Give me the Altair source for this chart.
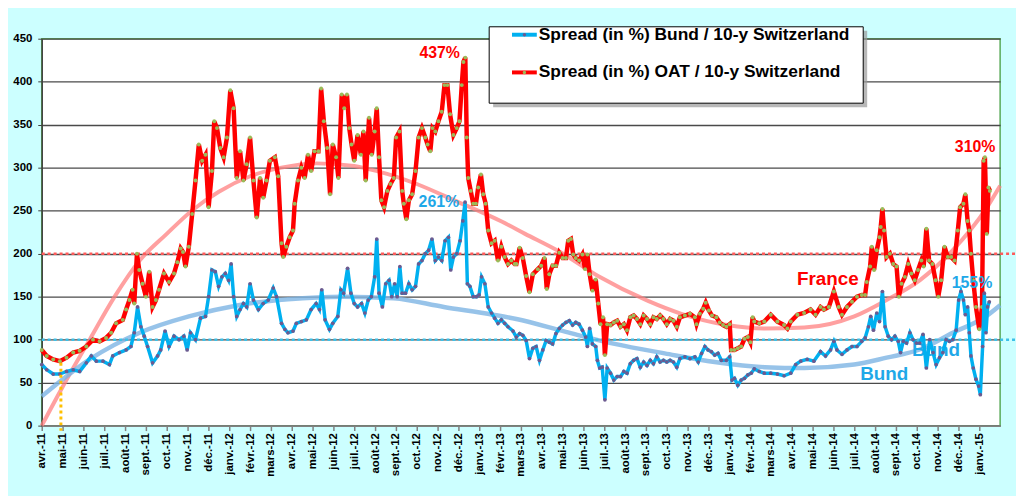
import json
import altair as alt
import pandas as pd

FONT = "Liberation Sans"

x_labels = [
    "avr.-11", "mai-11", "juin-11", "juil.-11", "août-11", "sept.-11", "oct.-11", "nov.-11", "déc.-11",
    "janv.-12", "févr.-12", "mars-12", "avr.-12", "mai-12", "juin-12", "juil.-12", "août-12", "sept.-12",
    "oct.-12", "nov.-12", "déc.-12",
    "janv.-13", "févr.-13", "mars-13", "avr.-13", "mai-13", "juin-13", "juil.-13", "août-13", "sept.-13",
    "oct.-13", "nov.-13", "déc.-13",
    "janv.-14", "févr.-14", "mars-14", "avr.-14", "mai-14", "juin-14", "juil.-14", "août-14", "sept.-14",
    "oct.-14", "nov.-14", "déc.-14",
    "janv.-15",
]

# France (OAT) spread, x = months since April 2011
fr_m = [0.0, 0.24, 0.55, 0.87, 1.19, 1.51, 1.82, 2.14, 2.46, 2.78, 3.09, 3.33, 3.57, 3.89, 4.05, 4.21,
        4.36, 4.44, 4.57, 4.68, 4.84, 5.0, 5.16, 5.32, 5.48, 5.63, 5.87, 6.11, 6.35, 6.51, 6.67, 6.78,
        6.90, 7.06, 7.22, 7.38, 7.54, 7.70, 7.86, 8.01, 8.17, 8.28, 8.41, 8.57, 8.73, 8.89, 9.05, 9.21,
        9.36, 9.52, 9.68, 9.84, 10.0, 10.16, 10.32, 10.48, 10.63, 10.79, 10.95, 11.19,
        11.35, 11.51, 11.59, 11.74, 11.90, 12.06, 12.14, 12.30, 12.46, 12.62, 12.78, 12.93, 13.09, 13.28,
        13.41, 13.54, 13.70, 13.84, 13.97, 14.13, 14.24, 14.40, 14.52, 14.65, 14.76, 14.87, 15.0, 15.16,
        15.32, 15.44, 15.55, 15.71, 15.84, 15.98, 16.08, 16.19, 16.30, 16.43, 16.59, 16.74, 16.90, 17.01,
        17.17, 17.30, 17.38, 17.50, 17.62, 17.78, 17.94, 18.09, 18.25, 18.41, 18.52, 18.65, 18.76, 18.89,
        19.04, 19.20, 19.33, 19.47, 19.60, 19.76, 19.92, 20.05, 20.16, 20.24, 20.33, 20.40, 20.47, 20.59,
        20.71, 20.84, 20.95, 21.08, 21.19, 21.31, 21.43, 21.59, 21.74, 21.90, 22.06, 22.22, 22.38, 22.54,
        22.70,
        22.78, 22.94, 23.09, 23.25, 23.41, 23.57, 23.81, 23.97, 24.13, 24.24, 24.36, 24.52, 24.68, 24.84,
        25.0, 25.16, 25.27, 25.40, 25.51, 25.63, 25.79, 25.95, 26.08, 26.19, 26.30, 26.43, 26.59, 26.71,
        26.82, 26.94, 27.03, 27.14, 27.30, 27.46, 27.62, 27.78, 27.94, 28.09, 28.25, 28.41, 28.57, 28.73,
        28.89, 29.05, 29.21, 29.36, 29.52, 29.68, 29.84, 30.0, 30.16, 30.32, 30.48, 30.63, 30.87, 31.11,
        31.35, 31.43, 31.59, 31.75, 31.87, 32.02, 32.17, 32.38, 32.54, 32.70, 32.86, 33.02, 33.09, 33.25,
        33.41, 33.57, 33.73, 33.89, 34.01, 34.12,
        34.20, 34.44, 34.68, 34.99, 35.31, 35.63, 35.79, 35.95, 36.27, 36.59, 36.90, 37.14, 37.38, 37.54,
        37.78, 38.02, 38.25, 38.41, 38.65, 38.89, 39.13, 39.36, 39.52, 39.60, 39.76, 39.84, 39.95, 40.08,
        40.21, 40.27, 40.35, 40.43, 40.55, 40.71, 40.87, 41.03, 41.14, 41.27, 41.43, 41.59, 41.74, 41.90,
        42.06, 42.22, 42.33, 42.46, 42.59, 42.75, 42.90, 43.03, 43.17, 43.33, 43.49, 43.65, 43.81, 43.97,
        44.08, 44.24, 44.33, 44.44, 44.52, 44.60, 44.71, 44.84, 45.0, 45.13, 45.21, 45.27, 45.36, 45.44,
        45.51]
fr_v = [88, 81, 77, 75, 79, 85, 87, 92, 100, 98, 102, 108, 119, 123, 135, 146,
        158, 142, 200, 181, 165, 150, 179, 138, 146, 158, 177, 167, 177, 190, 206, 202,
        185, 208, 246, 285, 327, 308, 315, 254, 296, 354, 346, 323, 312, 335, 390, 369,
        288, 319, 285, 304, 335, 285, 242, 288, 265, 285, 308, 312,
        290, 212, 196, 208, 219, 227, 258, 285, 300, 288, 315, 296, 319, 319,
        392, 354, 323, 269, 327, 312, 288, 385, 369, 385, 346, 327, 308, 338,
        315, 342, 285, 358, 315, 342, 369, 312, 262, 254, 273, 281, 288, 335,
        342, 273, 258, 240, 262, 269, 296, 335, 346, 335, 327, 319, 346, 342,
        354, 365, 396, 396, 362, 338, 346, 354, 396, 423, 428, 335, 288, 273,
        258, 258, 277, 292, 269, 258, 227, 212, 215, 192, 208, 196, 188, 192,
        188,
        188, 207, 195, 174, 155, 176, 182, 186, 195, 159, 176, 186, 186, 201,
        195, 195, 215, 217, 199, 195, 192, 199, 182, 199, 176, 157, 170, 142,
        118, 126, 82, 118, 117, 120, 122, 115, 118, 111, 126, 128, 124, 118,
        128, 124, 118, 126, 124, 128, 124, 118, 124, 122, 115, 126, 128, 130,
        126, 118, 130, 136, 143, 134, 128, 126, 120, 117, 115, 118, 88, 88,
        90, 92, 101, 103, 97, 126,
        121, 119, 121, 129, 121, 117, 113, 121, 129, 131, 135, 129, 138, 135,
        138, 156, 138, 129, 138, 144, 150, 152, 152, 167, 185, 208, 181, 204,
        219, 231, 252, 227, 196, 200, 188, 185, 150, 165, 173, 188, 177, 169,
        181, 192, 185, 229, 192, 188, 169, 150, 169, 208, 196, 196, 192, 227,
        254, 258, 269, 238, 227, 200, 169, 138, 112, 138, 308, 312, 223, 277,
        273]

# Germany (Bund) spread
de_m = [0.0, 0.24, 0.55, 0.87, 1.19, 1.51, 1.82, 2.14, 2.38, 2.62, 2.94, 3.25, 3.41, 3.73, 4.05, 4.28,
        4.44, 4.60, 4.76, 4.92, 5.08, 5.32, 5.56, 5.71, 5.92, 6.11, 6.35, 6.59, 6.82, 6.98, 7.14, 7.38,
        7.62, 7.86, 8.01, 8.17, 8.33, 8.49, 8.65, 8.81, 8.97, 9.09, 9.21, 9.36, 9.52, 9.68, 9.84, 10.0,
        10.16, 10.40, 10.63, 10.87, 11.11, 11.27,
        11.51, 11.67, 11.82, 12.06, 12.22, 12.46, 12.70, 12.93, 13.17, 13.33, 13.44, 13.60, 13.81, 13.97,
        14.21, 14.36, 14.49, 14.68, 14.84, 15.0, 15.16, 15.35, 15.51, 15.67, 15.82, 15.98, 16.08, 16.19,
        16.35, 16.51, 16.67, 16.80, 16.94, 17.06, 17.19, 17.30, 17.46, 17.62, 17.78, 17.94, 18.09, 18.25,
        18.41, 18.57, 18.73, 18.89, 19.04, 19.20, 19.36, 19.52, 19.63, 19.76, 19.92, 20.08, 20.21, 20.32,
        20.43, 20.55, 20.71, 20.87, 20.99, 21.11, 21.27, 21.43, 21.59, 21.74, 21.90, 22.06, 22.22, 22.38,
        22.62,
        22.78, 22.94, 23.09, 23.25, 23.41, 23.57, 23.73, 23.89, 24.05, 24.21, 24.36, 24.52, 24.68, 24.84,
        25.0, 25.16, 25.32, 25.48, 25.63, 25.79, 25.95, 26.11, 26.19, 26.30, 26.43, 26.59, 26.67, 26.78,
        26.90, 27.03, 27.14, 27.30, 27.46, 27.62, 27.78, 27.94, 28.09, 28.25, 28.41, 28.57, 28.73, 28.89,
        29.05, 29.21, 29.36, 29.52, 29.68, 29.84, 30.0, 30.16, 30.32, 30.48, 30.63, 30.87, 31.11, 31.35,
        31.51, 31.67, 31.83, 31.98, 32.14, 32.30, 32.46, 32.62, 32.86, 33.02, 33.13, 33.25, 33.41, 33.57,
        33.73, 33.89, 34.05,
        34.20, 34.44, 34.68, 34.99, 35.31, 35.63, 35.95, 36.19, 36.43, 36.74, 37.06, 37.38, 37.62, 37.86,
        38.02, 38.17, 38.41, 38.65, 38.89, 39.13, 39.36, 39.52, 39.68, 39.79, 39.92, 40.08, 40.21, 40.35,
        40.48, 40.63, 40.79, 40.95, 41.11, 41.22, 41.35, 41.51, 41.67, 41.82, 41.98, 42.14, 42.30, 42.46,
        42.62, 42.78, 42.93, 43.09, 43.25, 43.41, 43.57, 43.73, 43.89, 44.01, 44.12, 44.24, 44.33, 44.44,
        44.52, 44.60, 44.71, 44.84, 44.97, 45.05, 45.16, 45.24, 45.32, 45.40, 45.48]
de_v = [71, 65, 60, 60, 63, 65, 63, 73, 81, 75, 75, 71, 81, 85, 88, 92,
        108, 138, 115, 104, 92, 73, 81, 88, 110, 92, 104, 100, 104, 88, 108, 100,
        125, 127, 150, 181, 179, 162, 173, 177, 169, 188, 150, 127, 135, 142, 138, 165,
        146, 135, 142, 146, 160, 150,
        119, 112, 108, 110, 119, 121, 123, 135, 142, 135, 158, 123, 112, 119,
        127, 158, 154, 183, 154, 142, 138, 142, 131, 146, 150, 173, 217, 154,
        138, 165, 169, 150, 165, 150, 185, 154, 154, 165, 158, 162, 188, 192,
        200, 204, 217, 192, 196, 192, 215, 219, 181, 196, 200, 215, 238, 260,
        165, 162, 150, 150, 152, 173, 165, 138, 131, 125, 119, 123, 119, 115,
        110,
        103, 107, 105, 99, 78, 90, 92, 76, 88, 99, 97, 95, 107, 113,
        117, 120, 122, 117, 120, 118, 111, 103, 92, 113, 95, 92, 76, 67,
        68, 30, 67, 61, 53, 57, 57, 63, 61, 72, 76, 78, 68, 74,
        70, 76, 72, 80, 74, 76, 74, 76, 74, 68, 78, 80, 78, 80,
        74, 84, 92, 88, 86, 82, 84, 76, 76, 80, 53, 55, 47, 53,
        55, 59, 61,
        66, 63, 61, 61, 60, 58, 61, 71, 75, 77, 75, 86, 81, 88,
        98, 88, 83, 88, 92, 92, 98, 102, 115, 127, 111, 131, 121, 156,
        115, 104, 100, 104, 98, 85, 98, 96, 108, 100, 96, 96, 106, 67,
        100, 85, 71, 79, 85, 100, 98, 100, 111, 146, 156, 146, 129, 138,
        108, 81, 67, 54, 46, 36, 92, 154, 108, 138, 144]

# polynomial trend curves
fr_trend_m = [0, 1, 2.3, 3.5, 4.7, 6, 7.2, 8.5, 10, 11.5, 13.2, 15, 16.1, 18, 19.8, 22.1, 23.2, 24.8,
              26.7, 29.1, 30.7, 32.9, 34.7, 36.6, 39.0, 40.55, 42.14, 43.73, 45.32, 46]
fr_trend_v = [0, 45, 100, 150, 192, 223, 250, 272, 290, 300, 305, 302, 296, 281, 262, 237, 223, 203,
              174, 145, 130, 117, 113, 114, 127, 146, 169, 204, 252, 279]
de_trend_m = [0, 2.3, 4.7, 7.06, 9.44, 11.82, 14.5, 16.9, 19.3, 21.66, 22.78, 25.16, 27.5, 29.9, 32.3,
              34.7, 36.6, 39.0, 40.55, 42.14, 43.73, 45.32, 46]
de_trend_v = [34, 77, 108, 127, 140, 147, 150, 148, 138, 129, 124, 109, 95, 84, 74, 68, 67, 71, 79,
              88.5, 108, 127, 140]

ref_levels = [200, 100]
ref_colors = ["#ff5a5a", "#3cc0e8"]

marker_m = [0.92]
marker_from = [73]
marker_to = [-6]

ann_text = ["437%", "261%", "310%", "155%", "France", "Bund", "Bund"]
ann_m = [19.1, 19.06, 44.8, 44.65, 37.73, 40.44, 42.92]
ann_v = [433, 260, 324, 166, 170, 60, 88]

legend_labels = ["Spread (in %) Bund / 10-y Switzerland", "Spread (in %) OAT / 10-y Switzerland"]

W, H = 966, 390
RED = "#ff0000"
BLUE = "#00b0f0"
CYAN_TXT = "#1fa8e8"

xs = alt.Scale(domain=[0, 46], nice=False, zero=False)
ys = alt.Scale(domain=[0, 450], nice=False)

label_expr = json.dumps(x_labels, ensure_ascii=False) + "[datum.value]"

x_axis = alt.Axis(values=list(range(46)), labelExpr=label_expr, labelAngle=270, labelFont=FONT,
                  labelFontSize=11.5, labelFontWeight="bold", labelColor="#000000", tickColor="#808080",
                  tickSize=5, tickWidth=1.5, domainColor="#808080", domainWidth=2, grid=False, title=None,
                  labelPadding=2, labelOverlap=False, labelBound=False, labelFlush=False)
y_axis = alt.Axis(values=list(range(0, 451, 50)), grid=True, gridColor="#4a4a4a", gridWidth=1.3,
                  labelFont=FONT, labelFontSize=11.5, labelFontWeight="bold", labelColor="#000000",
                  tickSize=4, tickColor="#404040", domainColor="#404040", domainWidth=1.5, title=None,
                  labelPadding=6)

fr = pd.DataFrame({"m": fr_m, "v": fr_v})
de = pd.DataFrame({"m": de_m, "v": de_v})
frt = pd.DataFrame({"m": fr_trend_m, "v": fr_trend_v})
det = pd.DataFrame({"m": de_trend_m, "v": de_trend_v})
refs = pd.DataFrame({"v": ref_levels, "c": ref_colors})
mark_df = pd.DataFrame({"m": marker_m, "a": marker_from, "b": marker_to})

X = alt.X("m:Q", scale=xs, axis=x_axis)
Y = alt.Y("v:Q", scale=ys, axis=y_axis)

layers = []

layers.append(alt.Chart(frt).mark_line(color="#ff8080", strokeWidth=4, opacity=0.75,
                                       interpolate="monotone").encode(x=X, y=Y))
layers.append(alt.Chart(det).mark_line(color="#7db4e4", strokeWidth=4.5, opacity=0.8,
                                       interpolate="monotone").encode(x=X, y=Y))

# dotted reference levels
layers.append(alt.Chart(refs).mark_rule(strokeWidth=2.5, strokeDash=[3, 3]).encode(
    x=alt.value(0), x2=alt.value(W + 16), y=Y, color=alt.Color("c:N", scale=None)))


def ann(i, color, size):
    d = pd.DataFrame({"t": [ann_text[i]], "m": [ann_m[i]], "v": [ann_v[i]]})
    return alt.Chart(d).mark_text(font=FONT, fontWeight="bold", fontSize=size, color=color,
                                  align="center", baseline="middle").encode(x=X, y=Y, text="t:N")


# upper "Bund" label sits behind the series
layers.append(ann(6, CYAN_TXT, 19))

# series
layers.append(alt.Chart(fr).mark_line(color=RED, strokeWidth=4.5).encode(x=X, y=Y))
layers.append(alt.Chart(fr).mark_point(filled=True, size=16, color="#9bbb59", opacity=1).encode(x=X, y=Y))
layers.append(alt.Chart(de).mark_line(color=BLUE, strokeWidth=3.5).encode(x=X, y=Y))
layers.append(alt.Chart(de).mark_point(filled=True, size=14, color="#6c5a90", opacity=1).encode(x=X, y=Y))

# orange dotted marker
layers.append(alt.Chart(mark_df).mark_rule(color="#ffc000", strokeWidth=3, strokeDash=[3, 3]).encode(
    x=X, y=alt.Y("a:Q", scale=ys, axis=y_axis), y2="b:Q"))

# annotations
layers.append(ann(0, RED, 16))
layers.append(ann(1, CYAN_TXT, 16))
layers.append(ann(2, RED, 16))
layers.append(ann(3, CYAN_TXT, 16))
layers.append(ann(4, RED, 19))
layers.append(ann(5, CYAN_TXT, 19))

# legend box
one = pd.DataFrame({"k": [0]})
layers.append(alt.Chart(one).mark_rect(color="#9a9a9a", opacity=0.7).encode(
    x=alt.value(455), x2=alt.value(832), y=alt.value(-8), y2=alt.value(69)))
layers.append(alt.Chart(one).mark_rect(fill="#ffffff", stroke="#000000", strokeWidth=1).encode(
    x=alt.value(451), x2=alt.value(828), y=alt.value(-12), y2=alt.value(65)))
entries = [(-4, BLUE, "#6c5a90"), (34, RED, "#9bbb59")]
for (yy, lc, mc), lab in zip(entries, legend_labels):
    layers.append(alt.Chart(one).mark_rule(color=lc, strokeWidth=4).encode(
        x=alt.value(474), x2=alt.value(499), y=alt.value(yy)))
    layers.append(alt.Chart(one).mark_point(filled=True, size=12, color=mc, opacity=1).encode(
        x=alt.value(486.5), y=alt.value(yy)))
    ld = pd.DataFrame({"t": [lab]})
    layers.append(alt.Chart(ld).mark_text(font=FONT, fontWeight="bold", fontSize=17.5, color="#000000",
                                          align="left", baseline="middle").encode(
        x=alt.value(501), y=alt.value(yy), text="t:N"))

chart = alt.layer(*layers).properties(
    width=W, height=H,
    padding={"left": 34, "top": 29, "right": 16, "bottom": 69},
    autosize=alt.AutoSizeParams(type="none"),
    background="#ccffff",
).configure_view(fill="#ffffff", stroke="#5aaa5a", strokeWidth=1.5)

chart.save("out.html", embed_options={"renderer": "svg", "actions": False})
